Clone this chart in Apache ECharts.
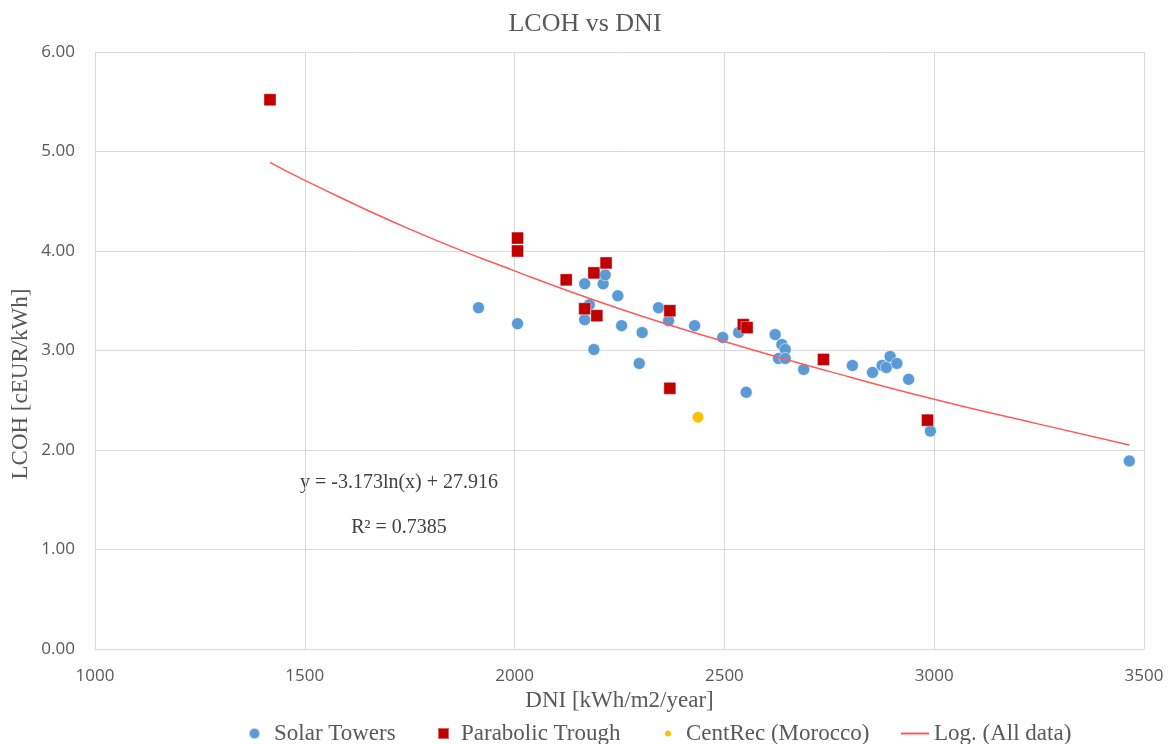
<!DOCTYPE html>
<html>
<head>
<meta charset="utf-8">
<title>LCOH vs DNI</title>
<script src="https://cdn.jsdelivr.net/npm/echarts@6/dist/echarts.min.js"></script>
<style>
  html, body { margin: 0; padding: 0; background: #fff; }
  #chart { width: 1170px; height: 744px; }
</style>
</head>
<body>
<div id="chart"></div>
<script>
// Solar Towers (blue circles)
const towerDni = [1914, 2007, 2167, 2211, 2216, 2178, 2167, 2246, 2189, 2255, 2304, 2343, 2367, 2297, 2429, 2496, 2534,
  2552, 2621, 2637, 2645, 2629, 2645, 2689, 2805, 2853, 2876, 2886, 2895, 2911, 2939, 2991, 3465];
const towerLcoh = [3.43, 3.27, 3.67, 3.67, 3.76, 3.46, 3.31, 3.55, 3.01, 3.25, 3.18, 3.43, 3.30, 2.87, 3.25, 3.13, 3.18,
  2.58, 3.16, 3.06, 3.01, 2.92, 2.92, 2.81, 2.85, 2.78, 2.85, 2.83, 2.94, 2.87, 2.71, 2.19, 1.89];

// Parabolic Trough (red squares)
const troughDni = [1417, 2007, 2007, 2123, 2189, 2218, 2167, 2196, 2370, 2370, 2545, 2554, 2736, 2984];
const troughLcoh = [5.52, 4.13, 4.00, 3.71, 3.78, 3.88, 3.42, 3.35, 3.40, 2.62, 3.26, 3.23, 2.91, 2.30];

// CentRec (Morocco)
const centrecDni = [2437];
const centrecLcoh = [2.33];

// Log. trendline (All data)
const trendDni = [1417, 1500, 1750, 2000, 2250, 2500, 2750, 3000, 3250, 3465];
const trendLcoh = [4.89, 4.71, 4.22, 3.80, 3.42, 3.09, 2.79, 2.51, 2.26, 2.05];

const equationText = 'y = -3.173ln(x) + 27.916';
const r2Text = 'R² = 0.7385';

function pairs(xs, ys) {
  return xs.map((x, i) => [x, ys[i]]);
}

const serif = '"Liberation Serif", "DejaVu Serif", serif';
const sans = '"Open Sans", "Noto Sans", sans-serif';
const gridColor = '#D9D9D9';
const textColor = '#595959';

function legendItem(name, left, icon, w, h, pad) {
  return {
    data: [name],
    left: left,
    top: 717,
    icon: icon,
    itemWidth: w,
    itemHeight: h,
    selectedMode: false,
    textStyle: { fontFamily: serif, fontSize: 23, color: textColor, padding: [0, 0, 0, pad] }
  };
}

const option = {
  animation: false,
  title: {
    text: 'LCOH vs DNI',
    left: 'center',
    top: 6,
    textStyle: { fontFamily: serif, fontSize: 26, fontWeight: 'normal', color: textColor }
  },
  grid: { left: 95, right: 26, top: 52, bottom: 95 },
  legend: [
    legendItem('Solar Towers', 243, 'circle', 11, 11, 9),
    legendItem('Parabolic Trough', 432, 'rect', 11, 11, 7),
    legendItem('CentRec (Morocco)', 660, 'circle', 6, 6, 10),
    legendItem('Log. (All data)', 896, 'rect', 28, 2, 0)
  ],
  xAxis: {
    type: 'value',
    min: 1000,
    max: 3500,
    interval: 500,
    name: 'DNI [kWh/m2/year]',
    nameLocation: 'middle',
    nameGap: 40,
    nameTextStyle: { fontFamily: serif, fontSize: 23, color: textColor },
    axisLine: { show: true, lineStyle: { color: gridColor, width: 1 } },
    axisTick: { show: false },
    axisLabel: {
      margin: 19,
      fontFamily: sans,
      fontSize: 17,
      color: textColor,
      formatter: v => String(v)
    },
    splitLine: { show: true, lineStyle: { color: gridColor, width: 1 } }
  },
  yAxis: {
    type: 'value',
    min: 0,
    max: 6,
    interval: 1,
    axisLine: { show: true, lineStyle: { color: gridColor, width: 1 } },
    axisTick: { show: false },
    axisLabel: {
      margin: 20,
      fontFamily: sans,
      fontSize: 17,
      color: textColor,
      formatter: v => v.toFixed(2)
    },
    splitLine: { show: true, lineStyle: { color: gridColor, width: 1 } }
  },
  graphic: [
    {
      type: 'text',
      x: 21, y: 384,
      rotation: Math.PI / 2,
      style: {
        text: 'LCOH [cEUR/kWh]',
        fontFamily: serif, fontSize: 23, fill: textColor,
        align: 'center', verticalAlign: 'middle'
      }
    },
    {
      type: 'text',
      x: 399, y: 483,
      style: {
        text: equationText,
        fontFamily: serif, fontSize: 20, fill: '#404040',
        align: 'center', verticalAlign: 'middle'
      }
    },
    {
      type: 'text',
      x: 399, y: 528,
      style: {
        text: r2Text,
        fontFamily: serif, fontSize: 20, fill: '#404040',
        align: 'center', verticalAlign: 'middle'
      }
    }
  ],
  series: [
    {
      name: 'Solar Towers',
      type: 'scatter',
      symbol: 'circle',
      symbolSize: 12,
      itemStyle: { color: '#5B9BD5', borderColor: 'rgba(255,255,255,0.5)', borderWidth: 1, opacity: 1 },
      data: pairs(towerDni, towerLcoh),
      z: 3
    },
    {
      name: 'Parabolic Trough',
      type: 'scatter',
      symbol: 'rect',
      symbolSize: 12,
      itemStyle: { color: '#C00000', borderColor: 'rgba(255,255,255,0.4)', borderWidth: 1, opacity: 1 },
      data: pairs(troughDni, troughLcoh),
      z: 4
    },
    {
      name: 'CentRec (Morocco)',
      type: 'scatter',
      symbol: 'circle',
      symbolSize: 11,
      itemStyle: { color: '#FFC000', opacity: 1 },
      data: pairs(centrecDni, centrecLcoh),
      z: 4
    },
    {
      name: 'Log. (All data)',
      type: 'line',
      smooth: true,
      showSymbol: false,
      symbol: 'none',
      itemStyle: { color: '#FF5A5A' },
      lineStyle: { color: '#FF5A5A', width: 1.5 },
      data: pairs(trendDni, trendLcoh),
      z: 5
    }
  ]
};

const chart = echarts.init(document.getElementById('chart'));
chart.setOption(option);
</script>
</body>
</html>
